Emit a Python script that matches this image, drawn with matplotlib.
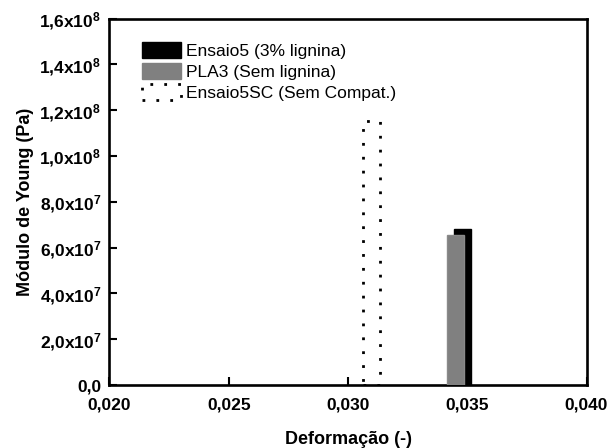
import matplotlib
matplotlib.use("Agg")
import matplotlib.pyplot as plt
from matplotlib.patches import Patch
from matplotlib.ticker import FixedLocator, FuncFormatter

# Young's modulus vs. strain for the three samples
series_labels = ["Ensaio5 (3% lignina)", "PLA3 (Sem lignina)", "Ensaio5SC (Sem Compat.)"]
strain = [0.0348, 0.0345, 0.0310]
modulus = [6.81e7, 6.56e7, 1.154e8]

x_ticks = [0.020, 0.025, 0.030, 0.035, 0.040]
x_tick_labels = ["0,020", "0,025", "0,030", "0,035", "0,040"]
y_ticks = [0, 2e7, 4e7, 6e7, 8e7, 1.0e8, 1.2e8, 1.4e8, 1.6e8]
y_tick_labels = ["0,0", "2,0x10$^{7}$", "4,0x10$^{7}$", "6,0x10$^{7}$", "8,0x10$^{7}$",
                 "1,0x10$^{8}$", "1,2x10$^{8}$", "1,4x10$^{8}$", "1,6x10$^{8}$"]

plt.rcParams["font.family"] = ["Liberation Sans", "DejaVu Sans"]
plt.rcParams["mathtext.fontset"] = "custom"
plt.rcParams["mathtext.rm"] = "Liberation Sans:bold"
plt.rcParams["mathtext.default"] = "rm"

fig = plt.figure(figsize=(6.10, 4.48), dpi=100)
ax = fig.add_axes([0.1795, 0.1406, 0.9615 - 0.1795, 0.9587 - 0.1406])

bar_w = 0.00072
dotted = dict(facecolor="white", edgecolor="black", linestyle=(0, (1, 4)), linewidth=2.0)
ax.bar(strain[2], modulus[2], width=bar_w, zorder=2, **dotted)
ax.bar(strain[0], modulus[0], width=bar_w, color="black", edgecolor="black", linewidth=1, zorder=3)
ax.bar(strain[1], modulus[1], width=bar_w, color="#808080", edgecolor="#8a8a8a", linewidth=1, zorder=4)

ax.set_xlim(0.020, 0.040)
ax.set_ylim(0, 1.6e8)
ax.xaxis.set_major_locator(FixedLocator(x_ticks))
ax.yaxis.set_major_locator(FixedLocator(y_ticks))
ax.xaxis.set_major_formatter(FuncFormatter(lambda v, i: x_tick_labels[i] if i is not None and i < len(x_tick_labels) else ""))
ax.yaxis.set_major_formatter(FuncFormatter(lambda v, i: y_tick_labels[i] if i is not None and i < len(y_tick_labels) else ""))

ax.tick_params(direction="in", length=6, width=1.5, labelsize=12.5,
               top=False, right=False)
ax.tick_params(axis="x", pad=9)
ax.tick_params(axis="y", pad=6)
for lab in ax.get_xticklabels() + ax.get_yticklabels():
    lab.set_fontweight("bold")
for sp in ax.spines.values():
    sp.set_linewidth(1.9)

ax.set_xlabel("Deformação (-)", fontsize=13, fontweight="bold", labelpad=13)
ax.set_ylabel("Módulo de Young (Pa)", fontsize=13, fontweight="bold", labelpad=4)

handles = [
    Patch(facecolor="black", edgecolor="black", label=series_labels[0]),
    Patch(facecolor="#808080", edgecolor="#808080", label=series_labels[1]),
    Patch(label=series_labels[2], **dotted),
]
fig.legend(handles=handles, loc="upper left", bbox_to_anchor=(133.5 / 610, 1 - 33 / 448),
           frameon=False, fontsize=12.5, borderpad=0, handlelength=2.25, handleheight=1.05,
           handletextpad=0.3, labelspacing=0.25)

fig.savefig("out.png", dpi=100)
